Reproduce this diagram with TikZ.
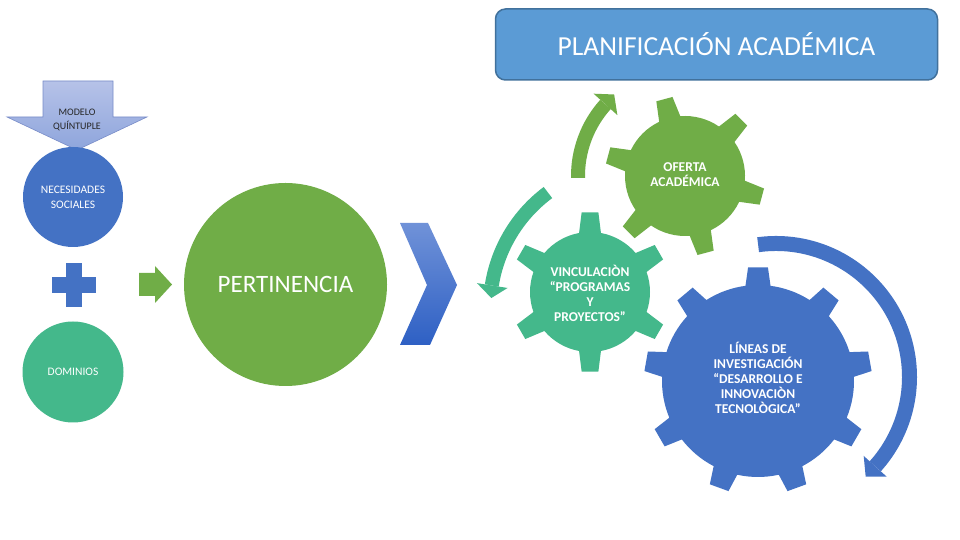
\documentclass[tikz,border=0pt]{standalone}
\usepackage{fontspec}
\setmainfont{Carlito}
\definecolor{cblue}{RGB}{68,114,196}
\definecolor{cgreen}{RGB}{112,173,71}
\definecolor{cteal}{RGB}{68,184,139}
\definecolor{cplan}{RGB}{91,155,213}
\definecolor{cplanline}{RGB}{65,113,156}
\definecolor{cmodA}{RGB}{182,194,232}
\definecolor{cmodB}{RGB}{142,165,220}
\definecolor{cmodline}{RGB}{120,140,200}
\definecolor{cchevA}{RGB}{112,146,216}
\definecolor{cchevB}{RGB}{46,96,196}
\newcommand{\mygear}[8]{%
 \begin{scope}[shift={#1}]
 \fill[#8] ({#3-#7}:#5pt)
   \foreach \gi in {1,...,#2}{
     -- ({#3+(\gi-1)*360/#2-#7}:#5pt)
     -- ({#3+(\gi-1)*360/#2-#6}:#4pt)
     -- ({#3+(\gi-1)*360/#2+#6}:#4pt)
     -- ({#3+(\gi-1)*360/#2+#7}:#5pt)
     arc[start angle={#3+(\gi-1)*360/#2+#7}, end angle={#3+\gi*360/#2-#7}, radius=#5pt]
   } -- cycle;
 \end{scope}}
\tikzset{
 gtext/.style={text=white, align=center, font=\bfseries\fontsize{13.5}{15}\selectfont},
 ctext/.style={text=white, align=center, font=\fontsize{11.5}{15}\selectfont},
 disc/.style={circle, inner sep=0pt, minimum size=#1},
}
\begin{document}
\begin{tikzpicture}[x=1pt,y=1pt]
\useasboundingbox (0,0) rectangle (960,540);
\fill[white] (0,0) rectangle (960,540);

% title box
\node[draw=cplanline, line width=1.5pt, fill=cplan, rounded corners=10pt,
  minimum width=442pt, minimum height=71pt, text=white,
  font=\fontsize{27.5}{32}\selectfont] (plan) at (716.5,495.5) {PLANIFICACIÓN ACADÉMICA};

% modelo arrow
\shade[top color=cmodA, bottom color=cmodB, draw=cmodline, line width=0.6pt]
  (43,459) -- (113,459) -- (113,423) -- (147,423) -- (77,390) -- (7,423) -- (43,423) -- cycle;
\node[font=\fontsize{10}{14}\selectfont, text=black!85, align=center] (modelo) at (77,420) {MODELO\\QUÍNTUPLE};

% left column
\node[disc=100pt, fill=cblue, ctext] (nec) at (73,343) {NECESIDADES\\SOCIALES};
\fill[cblue] (52,247) rectangle (96,263);
\fill[cblue] (66,233) rectangle (82,277);
\node[disc=101pt, fill=cteal, ctext] (dom) at (73,168) {DOMINIOS};

% small arrow
\fill[cgreen] (139,244) -- (155,244) -- (155,237) -- (172,255.5) -- (155,274) -- (155,267) -- (139,267) -- cycle;

% pertinencia
\node[disc=203pt, fill=cgreen, text=white, font=\fontsize{25}{28}\selectfont] (pert) at (285.5,255.5) {PERTINENCIA};

% chevron
\shade[top color=cchevA, bottom color=cchevB]
  (400,317) -- (428,317) -- (457,255) -- (430,195) -- (400,195) -- (427,255) -- cycle;

% gears
\mygear{(590,248)}{6}{90}{80}{60}{6}{10.5}{cteal}
\mygear{(685,364)}{6}{45}{80}{60}{6}{10.5}{cgreen}
\mygear{(758,159)}{9}{90}{114}{96}{5}{7.5}{cblue}

% circular arrows
\begin{scope}[shift={(685,364)}]
 \draw[cgreen, line width=14pt] (181:107pt) arc[start angle=181, end angle=138, radius=107pt];
 \fill[cgreen] (138:91pt) -- (131:108pt) -- (138:123pt) -- cycle;
\end{scope}
\begin{scope}[shift={(634,232)}]
 \draw[cteal, line width=14pt] (126.7:144pt) arc[start angle=126.7, end angle=171, radius=144pt];
 \fill[cteal] (171:128pt) -- (176:143pt) -- (171:159pt) -- cycle;
\end{scope}
\begin{scope}[shift={(776,163)}]
 \draw[cblue, line width=15pt] (97.7:133.5pt) arc[start angle=97.7, end angle=-42, radius=133.5pt];
 \fill[cblue] (-42:118pt) -- (-48:134pt) -- (-42:149pt) -- cycle;
\end{scope}

% gear texts
\node[gtext] (oferta) at (685,365) {OFERTA\\ACADÉMICA};
\node[gtext] (vinc) at (590,247) {VINCULACIÒN\\“PROGRAMAS\\Y\\PROYECTOS”};
\node[gtext] (lineas) at (758,162) {LÍNEAS DE\\INVESTIGACIÓN\\“DESARROLLO E\\INNOVACIÒN\\TECNOLÒGICA”};
\end{tikzpicture}
\end{document}
